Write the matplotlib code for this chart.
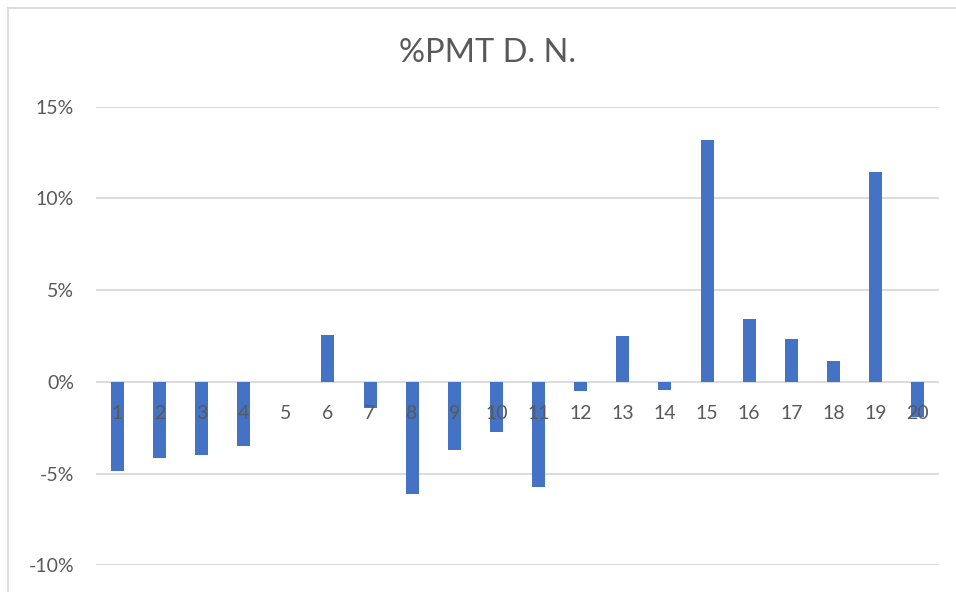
import matplotlib
matplotlib.use("Agg")
import matplotlib.pyplot as plt
from matplotlib.lines import Line2D
import numpy as np

categories = [str(i) for i in range(1, 21)]
values = [-4.85, -4.16, -4.0, -3.51, 0.0, 2.58, -1.42, -6.1, -3.71, -2.76,
          -5.71, -0.49, 2.51, -0.47, 13.16, 3.44, 2.36, 1.15, 11.45, -1.9]
y_ticks = [-10, -5, 0, 5, 10, 15]
title = "%PMT D. N."

text_color = "#595959"
grid_color = "#d9d9d9"
bar_color = "#4472c4"

plt.rcParams['font.family'] = ['Lato', 'DejaVu Sans']

fig = plt.figure(figsize=(9.56, 5.92), dpi=100)
ax = fig.add_axes([0.1007, 0.0451, 0.8812, 0.7747])

x = np.arange(len(categories))
ax.bar(x, values, width=0.31, color=bar_color, zorder=2)

ax.set_xlim(-0.5, len(categories) - 0.5)
ax.set_ylim(y_ticks[0], y_ticks[-1])
ax.set_yticks(y_ticks)
ax.set_yticklabels([f"{t}%" for t in y_ticks], fontsize=14, color=text_color)
ax.tick_params(axis='y', length=0, pad=16)
ax.set_xticks([])
ax.grid(axis='y', color=grid_color, linewidth=1.3, zorder=0)
for s in ax.spines.values():
    s.set_visible(False)

# category labels sit just below the zero line, on top of the bars
for xi, lab in zip(x, categories):
    ax.annotate(lab, (xi, 0), xytext=(0, -22.5), textcoords='offset points',
                ha='center', va='center', fontsize=14, color=text_color, zorder=3)

fig.text(0.51, 1 - 53 / 592, title, ha='center', va='center', fontsize=23.5, color=text_color)

# chart border (only top and left edges visible in the crop)
fig.add_artist(Line2D([7.5 / 956, 7.5 / 956], [0, 1 - 7.5 / 592], transform=fig.transFigure,
                      color=grid_color, linewidth=1.3))
fig.add_artist(Line2D([7.5 / 956, 1], [1 - 7.5 / 592, 1 - 7.5 / 592], transform=fig.transFigure,
                      color=grid_color, linewidth=1.3))

fig.savefig("out.png", dpi=100)
